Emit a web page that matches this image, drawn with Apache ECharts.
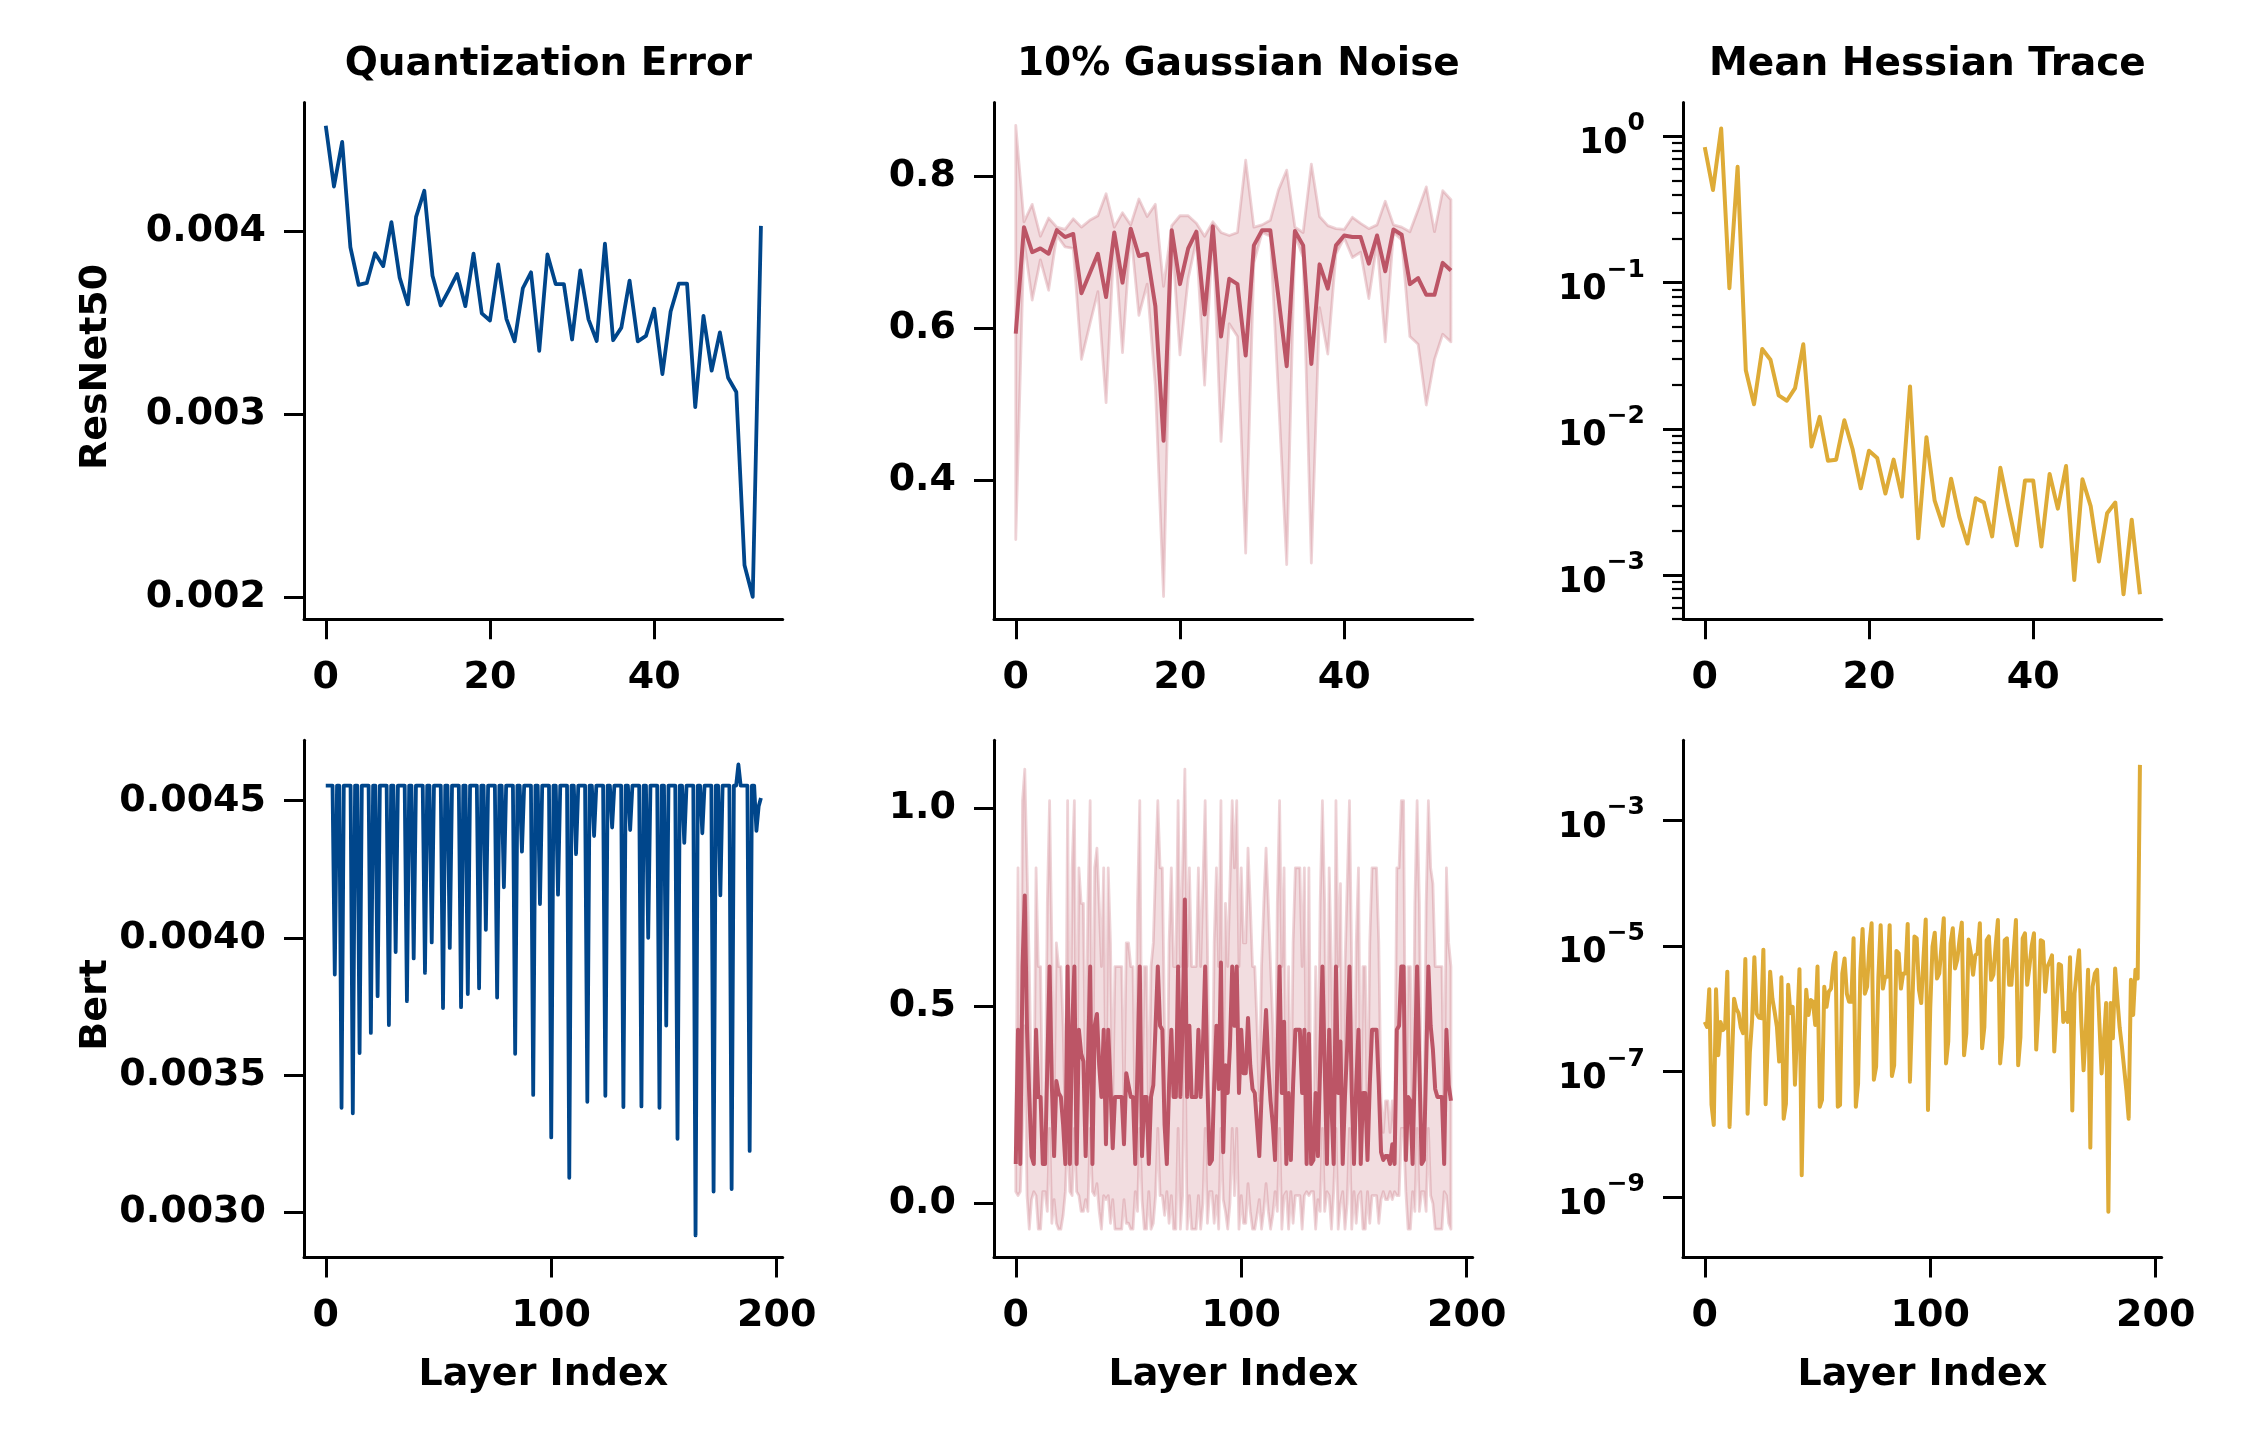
<!DOCTYPE html>
<html><head><meta charset="utf-8">
<script src="https://cdn.jsdelivr.net/npm/echarts@6/dist/echarts.min.js"></script>
<style>html,body{margin:0;padding:0;background:#fff}#c{width:2244px;height:1440px}</style>
</head><body><div id="c"></div>
<script>
// ---------------- text ----------------
const colTitles = ['Quantization Error', '10% Gaussian Noise', 'Mean Hessian Trace'];
const rowLabels = ['ResNet50', 'Bert'];
const xAxisLabel = 'Layer Index';

// ---------------- ResNet50 (54 layers) ----------------
const resnetQuantError = [
0.004576,0.004244,0.004488,0.003912,0.003707,0.003717,0.003879,0.003809,0.004049,0.003746,
0.0036,0.004078,0.004221,0.003756,0.003594,0.003678,0.003766,0.00359,0.003877,0.003551,
0.003512,0.003818,0.003521,0.003398,0.003688,0.003775,0.003346,0.003873,0.003711,0.003711,
0.003408,0.003785,0.003518,0.0034,0.003932,0.003404,0.003473,0.00373,0.003398,0.003428,
0.003576,0.003219,0.003561,0.003713,0.003713,0.003039,0.003537,0.003238,0.003447,0.003199,
0.003121,0.002174,0.002002,0.004029];

const resnetNoiseMean = [
0.593,0.733,0.700,0.705,0.698,0.729,0.720,0.724,0.646,0.672,
0.698,0.641,0.726,0.660,0.731,0.695,0.698,0.629,0.452,0.729,
0.658,0.705,0.727,0.618,0.734,0.589,0.665,0.658,0.564,0.709,
0.729,0.729,0.640,0.550,0.728,0.709,0.553,0.684,0.652,0.709,
0.722,0.720,0.720,0.685,0.722,0.675,0.730,0.723,0.658,0.666,
0.644,0.644,0.686,0.676];
const resnetNoiseUpper = [
0.867,0.740,0.763,0.721,0.745,0.733,0.730,0.744,0.733,0.742,
0.748,0.777,0.733,0.752,0.736,0.770,0.747,0.763,0.655,0.735,
0.748,0.748,0.738,0.721,0.740,0.726,0.722,0.726,0.821,0.733,
0.736,0.742,0.782,0.808,0.733,0.726,0.816,0.747,0.735,0.731,
0.730,0.746,0.738,0.731,0.736,0.767,0.736,0.733,0.727,0.756,
0.786,0.727,0.781,0.769];
const resnetNoiseLower = [
0.322,0.716,0.637,0.690,0.650,0.722,0.707,0.705,0.559,0.604,
0.648,0.502,0.721,0.568,0.727,0.617,0.658,0.524,0.247,0.723,
0.565,0.665,0.716,0.525,0.730,0.451,0.606,0.589,0.304,0.686,
0.726,0.721,0.510,0.289,0.723,0.693,0.291,0.627,0.566,0.698,
0.719,0.693,0.700,0.639,0.712,0.582,0.726,0.716,0.589,0.579,
0.499,0.559,0.592,0.582];

// log10 of the mean Hessian trace
const resnetHessianLog10 = [
-0.073,-0.366,0.054,-1.038,-0.208,-1.600,-1.832,-1.454,-1.527,-1.771,
-1.808,-1.722,-1.422,-2.121,-1.918,-2.218,-2.211,-1.942,-2.138,-2.407,
-2.150,-2.199,-2.443,-2.211,-2.463,-1.710,-2.749,-2.057,-2.492,-2.663,
-2.341,-2.602,-2.785,-2.475,-2.504,-2.736,-2.267,-2.541,-2.797,-2.353,
-2.353,-2.805,-2.309,-2.546,-2.255,-3.034,-2.345,-2.529,-2.907,-2.578,
-2.504,-3.132,-2.622,-3.132];

// ---------------- Bert (194 layers) ----------------
const bertQuantError = [
0.004555,0.004555,0.004555,0.004555,0.003866,0.004555,0.004555,0.00338,0.004555,0.004555,
0.004555,0.004555,0.00336,0.004555,0.004555,0.00358,0.004555,0.004555,0.004555,0.004555,
0.003653,0.004555,0.004555,0.003787,0.004555,0.004555,0.004555,0.004555,0.003682,0.004555,
0.004555,0.003948,0.004555,0.004555,0.004555,0.004555,0.003769,0.004555,0.004555,0.003925,
0.004555,0.004555,0.004555,0.004555,0.003872,0.004555,0.004555,0.003983,0.004555,0.004555,
0.004555,0.004555,0.003744,0.004555,0.004555,0.003963,0.004555,0.004555,0.004555,0.004555,
0.003747,0.004555,0.004555,0.003795,0.004555,0.004555,0.004555,0.004555,0.003816,0.004555,
0.004555,0.004029,0.004555,0.004555,0.004555,0.004555,0.003782,0.004555,0.004555,0.004184,
0.004555,0.004555,0.004555,0.004555,0.003577,0.004555,0.004555,0.004314,0.004555,0.004555,
0.004555,0.004555,0.003427,0.004555,0.004555,0.004123,0.004555,0.004555,0.004555,0.004555,
0.003272,0.004555,0.004555,0.004157,0.004555,0.004555,0.004555,0.004555,0.003125,0.004555,
0.004555,0.004305,0.004555,0.004555,0.004555,0.004555,0.003402,0.004555,0.004555,0.004371,
0.004555,0.004555,0.004555,0.004555,0.003424,0.004555,0.004555,0.004402,0.004555,0.004555,
0.004555,0.004555,0.003383,0.004555,0.004555,0.004393,0.004555,0.004555,0.004555,0.004555,
0.003385,0.004555,0.004555,0.004,0.004555,0.004555,0.004555,0.004555,0.00338,0.004555,
0.004555,0.00368,0.004555,0.004555,0.004555,0.004555,0.003267,0.004555,0.004555,0.004346,
0.004555,0.004555,0.004555,0.004555,0.002915,0.004555,0.004555,0.004381,0.004555,0.004555,
0.004555,0.004555,0.003075,0.004555,0.004555,0.004155,0.004555,0.004555,0.004555,0.004555,
0.003084,0.004555,0.004555,0.004632,0.004555,0.004555,0.004555,0.004555,0.003223,0.004555,
0.004555,0.00439,0.00448,0.00451];

const bertNoiseMean = [
0.10,0.44,0.10,0.60,0.78,0.44,0.27,0.12,0.10,0.44,
0.27,0.27,0.10,0.10,0.35,0.60,0.30,0.12,0.31,0.28,
0.27,0.20,0.10,0.60,0.10,0.44,0.60,0.10,0.44,0.38,
0.36,0.12,0.35,0.60,0.10,0.45,0.48,0.35,0.27,0.44,
0.15,0.44,0.30,0.14,0.27,0.27,0.27,0.27,0.15,0.33,
0.30,0.27,0.27,0.10,0.35,0.60,0.12,0.27,0.27,0.10,
0.27,0.30,0.45,0.60,0.45,0.44,0.20,0.10,0.30,0.44,
0.27,0.27,0.60,0.27,0.45,0.77,0.27,0.45,0.27,0.27,
0.27,0.44,0.27,0.40,0.60,0.30,0.10,0.11,0.30,0.45,
0.29,0.61,0.13,0.35,0.28,0.40,0.60,0.45,0.60,0.28,
0.44,0.33,0.33,0.47,0.35,0.29,0.28,0.20,0.12,0.27,
0.38,0.49,0.35,0.26,0.20,0.11,0.35,0.60,0.28,0.46,
0.10,0.28,0.11,0.30,0.44,0.44,0.44,0.28,0.44,0.10,
0.43,0.10,0.11,0.28,0.12,0.35,0.60,0.35,0.10,0.44,
0.25,0.10,0.60,0.28,0.41,0.10,0.27,0.40,0.60,0.28,
0.10,0.30,0.44,0.10,0.28,0.28,0.11,0.30,0.44,0.44,
0.44,0.30,0.13,0.11,0.12,0.12,0.10,0.15,0.10,0.44,
0.45,0.60,0.60,0.11,0.27,0.26,0.10,0.35,0.60,0.35,
0.10,0.11,0.35,0.60,0.45,0.39,0.29,0.27,0.27,0.27,
0.10,0.44,0.30,0.26];
const bertNoiseLower = [
0.03,0.02,0.03,0.19,0.45,0.02,-0.065,0.01,0.03,0.02,
-0.065,-0.065,0.03,0.03,-0.02,0.19,-0.05,0.01,-0.05,-0.065,
-0.065,-0.03,0.03,0.19,0.03,0.02,0.19,0.03,0.02,-0.02,
-0.02,0.01,-0.02,0.19,0.03,0.02,0.05,-0.02,-0.065,0.02,
0.01,0.02,-0.05,0.01,-0.065,-0.065,-0.065,-0.065,0.01,-0.05,
-0.05,-0.065,-0.065,0.03,-0.02,0.19,0.01,-0.065,-0.065,0.03,
-0.065,-0.05,0.02,0.19,0.02,0.02,-0.03,0.03,-0.05,0.02,
-0.065,-0.065,0.19,-0.065,0.02,0.45,-0.065,0.02,-0.065,-0.065,
-0.065,0.02,-0.065,0.0,0.19,-0.05,0.03,0.03,-0.05,0.02,
-0.065,0.19,0.01,-0.02,-0.065,0.0,0.19,0.02,0.19,-0.065,
0.02,-0.05,-0.05,0.05,-0.02,-0.065,-0.065,-0.03,0.01,-0.065,
-0.02,0.05,-0.02,-0.065,-0.03,0.03,-0.02,0.19,-0.065,0.02,
0.03,-0.065,0.03,-0.05,0.02,0.02,0.02,-0.065,0.02,0.03,
0.02,0.03,0.03,-0.065,0.01,-0.02,0.19,-0.02,0.03,0.02,
-0.065,0.03,0.19,-0.065,0.0,0.03,-0.065,0.0,0.19,-0.065,
0.03,-0.05,0.02,0.03,-0.065,-0.065,0.03,-0.05,0.02,0.02,
0.02,-0.05,0.01,0.03,0.01,0.01,0.03,0.01,0.03,0.02,
0.02,0.19,0.19,0.03,-0.065,-0.065,0.03,-0.02,0.19,-0.02,
0.03,0.03,-0.02,0.19,0.02,0.0,-0.065,-0.065,-0.065,-0.065,
0.03,0.02,-0.05,-0.065];
const bertNoiseUpper = [
0.18,0.85,0.18,1.02,1.10,0.85,0.60,0.26,0.18,0.85,
0.60,0.60,0.18,0.18,0.76,1.02,0.66,0.26,0.66,0.60,
0.60,0.45,0.18,1.02,0.18,0.85,1.02,0.18,0.85,0.76,
0.76,0.26,0.76,1.02,0.18,0.85,0.90,0.76,0.60,0.85,
0.26,0.85,0.66,0.26,0.60,0.60,0.60,0.60,0.26,0.66,
0.66,0.60,0.60,0.18,0.76,1.02,0.26,0.60,0.60,0.18,
0.60,0.66,0.85,1.02,0.85,0.85,0.45,0.18,0.66,0.85,
0.60,0.60,1.02,0.60,0.85,1.10,0.60,0.85,0.60,0.60,
0.60,0.85,0.60,0.81,1.02,0.66,0.18,0.18,0.66,0.85,
0.60,1.02,0.26,0.76,0.60,0.81,1.02,0.85,1.02,0.60,
0.85,0.66,0.66,0.90,0.76,0.60,0.60,0.45,0.26,0.60,
0.76,0.90,0.76,0.60,0.45,0.18,0.76,1.02,0.60,0.85,
0.18,0.60,0.18,0.66,0.85,0.85,0.85,0.60,0.85,0.18,
0.85,0.18,0.18,0.60,0.26,0.76,1.02,0.76,0.18,0.85,
0.60,0.18,1.02,0.60,0.81,0.18,0.60,0.81,1.02,0.60,
0.18,0.66,0.85,0.18,0.60,0.60,0.18,0.66,0.85,0.85,
0.85,0.66,0.26,0.18,0.26,0.26,0.18,0.26,0.18,0.85,
0.85,1.02,1.02,0.18,0.60,0.60,0.18,0.76,1.02,0.76,
0.18,0.18,0.76,1.02,0.85,0.81,0.60,0.60,0.60,0.60,
0.18,0.85,0.66,0.60];

const bertHessianLog10 = [
-6.21,-6.29,-5.69,-7.53,-7.85,-5.69,-6.74,-6.21,-6.34,-6.30,
-5.41,-7.88,-6.90,-5.84,-6.00,-6.07,-6.30,-6.39,-5.21,-7.67,
-6.70,-6.18,-5.18,-6.08,-6.14,-6.15,-5.06,-7.52,-6.50,-5.41,
-5.84,-6.05,-6.29,-6.84,-5.50,-7.75,-7.51,-5.62,-6.07,-5.97,
-7.21,-6.30,-5.37,-8.65,-6.80,-5.70,-6.10,-5.86,-5.89,-6.26,
-5.33,-7.56,-7.45,-5.65,-5.97,-5.73,-5.68,-5.30,-5.11,-7.56,
-7.53,-5.44,-5.20,-5.76,-5.89,-5.89,-4.88,-7.56,-7.19,-5.40,
-4.73,-5.76,-5.65,-5.00,-4.64,-7.13,-6.92,-5.50,-4.67,-5.68,
-5.49,-5.49,-4.67,-7.07,-6.90,-5.08,-5.12,-5.68,-5.44,-5.44,
-4.65,-7.16,-6.00,-4.85,-4.88,-5.70,-5.91,-5.20,-4.58,-7.61,
-6.00,-5.01,-4.79,-5.52,-5.44,-5.00,-4.56,-6.87,-6.52,-4.96,
-4.72,-5.36,-5.22,-4.90,-4.63,-6.74,-6.39,-4.90,-5.12,-5.46,
-5.15,-5.12,-4.64,-6.63,-6.29,-4.91,-4.85,-5.54,-5.46,-5.00,
-4.59,-6.87,-6.45,-4.91,-4.88,-5.62,-5.62,-5.10,-4.59,-6.90,
-6.45,-4.88,-4.80,-5.62,-5.33,-5.00,-4.80,-6.65,-6.02,-4.91,
-4.93,-5.73,-5.33,-5.25,-5.15,-6.68,-6.02,-5.29,-5.31,-6.21,
-6.07,-6.21,-5.18,-7.62,-5.76,-5.40,-5.07,-6.21,-6.98,-6.34,
-5.38,-8.21,-5.65,-5.44,-5.38,-6.21,-7.03,-6.52,-5.91,-9.23,
-5.91,-6.47,-5.36,-5.85,-6.30,-6.60,-6.95,-7.30,-7.75,-5.54,
-6.10,-5.38,-5.52,-2.12];

// ---------------- tick values ----------------
const resnetXTicks = [0, 20, 40];
const bertXTicks = [0, 100, 200];
const resnetQuantTicks = [0.002, 0.003, 0.004];
const resnetNoiseTicks = [0.4, 0.6, 0.8];
const resnetHessTicks = [1e-3, 1e-2, 1e-1, 1];
const resnetHessMinorTicks = [5e-4,6e-4,7e-4,8e-4,9e-4,2e-3,3e-3,4e-3,5e-3,6e-3,7e-3,8e-3,9e-3,
  2e-2,3e-2,4e-2,5e-2,6e-2,7e-2,8e-2,9e-2,0.2,0.3,0.4,0.5,0.6,0.7,0.8,0.9];
const bertQuantTicks = [0.003, 0.0035, 0.004, 0.0045];
const bertNoiseTicks = [0.0, 0.5, 1.0];
const bertHessTicks = [1e-9, 1e-7, 1e-5, 1e-3];

// ---------------- styling / layout ----------------
const FONT = 'DejaVu Sans';
const BLUE = '#00468B', RED = '#BC5566', GOLD = '#DEAB37';
const LEFTS = [304, 994, 1683], W = 478.7;
const TOPS = [102.5, 740.3], HS = [516.8, 517.3];
const FS = 38;

const grids = [];
for (let r = 0; r < 2; r++) for (let c = 0; c < 3; c++)
  grids.push({left: LEFTS[c], top: TOPS[r], width: W, height: HS[r], containLabel: false});

const txt = {color: '#000', fontFamily: FONT, fontWeight: 'bold', fontSize: FS};
const axLine = {show: true, onZero: false, lineStyle: {color: '#000', width: 3}};

function xAx(g, min, max, ticks, named) {
  return {
    type: 'value', gridIndex: g, min: min, max: max,
    axisLine: axLine,
    axisTick: {show: true, customValues: ticks, length: 20, lineStyle: {color: '#000', width: 3}},
    axisLabel: Object.assign({customValues: ticks, margin: 40}, txt),
    splitLine: {show: false},
    name: named ? xAxisLabel : '', nameLocation: 'middle', nameGap: 99,
    nameTextStyle: txt
  };
}
function yAx(g, min, max, ticks, fmt) {
  return {
    type: 'value', gridIndex: g, min: min, max: max,
    axisLine: axLine,
    axisTick: {show: true, customValues: ticks, length: 20, lineStyle: {color: '#000', width: 3}},
    axisLabel: Object.assign({customValues: ticks, margin: 38, formatter: fmt}, txt),
    splitLine: {show: false}
  };
}
function powLabel(v) {
  const e = Math.round(Math.log10(v));
  return '{b|10}{s|' + (e < 0 ? '\u2212' + (-e) : String(e)) + '}';
}
const powRich = {
  b: {fontSize: 35, fontFamily: FONT, fontWeight: 'bold', color: '#000', verticalAlign: 'bottom', lineHeight: 50},
  s: {fontSize: 25, fontFamily: FONT, fontWeight: 'bold', color: '#000', verticalAlign: 'top', lineHeight: 28}
};
function yLog(g, min, max, ticks) {
  return {
    type: 'log', logBase: 10, gridIndex: g, min: min, max: max, position: 'left',
    axisLine: axLine,
    axisTick: {show: true, customValues: ticks, length: 20, lineStyle: {color: '#000', width: 3}},
    axisLabel: {customValues: ticks, margin: 38, formatter: powLabel, rich: powRich, color: '#000'},
    splitLine: {show: false}, minorTick: {show: false}
  };
}
function yLogMinor(g, min, max, ticks) {
  return {
    type: 'log', logBase: 10, gridIndex: g, min: min, max: max, position: 'left', offset: 0,
    axisLine: {show: false, onZero: false},
    axisTick: {show: true, customValues: ticks, length: 11, lineStyle: {color: '#000', width: 2.2}},
    axisLabel: {show: false},
    splitLine: {show: false}
  };
}

const fmt3 = v => v.toFixed(3);
const fmt1 = v => v.toFixed(1);
const fmt4 = v => v.toFixed(4);

const xAxes = [
  xAx(0, -2.65, 55.65, resnetXTicks, false),
  xAx(1, -2.65, 55.65, resnetXTicks, false),
  xAx(2, -2.65, 55.65, resnetXTicks, false),
  xAx(3, -9.65, 202.65, bertXTicks, true),
  xAx(4, -9.65, 202.65, bertXTicks, true),
  xAx(5, -9.65, 202.65, bertXTicks, true)
];
const yAxes = [
  yAx(0, 0.001879, 0.004703, resnetQuantTicks, fmt3),
  yAx(1, 0.217, 0.897, resnetNoiseTicks, fmt1),
  yLog(2, Math.pow(10, -3.303), Math.pow(10, 0.232), resnetHessTicks),
  yAx(3, 0.002834, 0.00472, bertQuantTicks, fmt4),
  yAx(4, -0.137, 1.173, bertNoiseTicks, fmt1),
  yLog(5, Math.pow(10, -9.96), Math.pow(10, -1.729), bertHessTicks),
  yLogMinor(2, Math.pow(10, -3.303), Math.pow(10, 0.232), resnetHessMinorTicks)
];

const pairs = arr => arr.map((v, i) => [i, v]);
const powPairs = arr => arr.map((v, i) => [i, Math.pow(10, v)]);

function line(ax, data, color, width) {
  return {type: 'line', xAxisIndex: ax, yAxisIndex: ax, data: data, showSymbol: false, symbol: 'none',
    lineStyle: {color: color, width: width, join: 'round'}, z: 3, silent: true};
}
// confidence band drawn as one polygon through the axes' own coordinate system
function band(ax, lo, hi) {
  return {
    type: 'custom', xAxisIndex: ax, yAxisIndex: ax, silent: true, z: 2, clip: true,
    data: [[0, hi[0]]],
    renderItem: function (params, api) {
      const pts = [];
      for (let i = 0; i < hi.length; i++) pts.push(api.coord([i, hi[i]]));
      for (let i = lo.length - 1; i >= 0; i--) pts.push(api.coord([i, lo[i]]));
      return {type: 'polygon', shape: {points: pts},
        style: {fill: 'rgba(188,85,102,0.20)', stroke: 'rgba(188,85,102,0.26)', lineWidth: 2.8, lineJoin: 'round'}};
    }
  };
}

const series = [
  line(0, pairs(resnetQuantError), BLUE, 3.8),
  band(1, resnetNoiseLower, resnetNoiseUpper),
  line(1, pairs(resnetNoiseMean), RED, 4),
  line(2, powPairs(resnetHessianLog10), GOLD, 4),
  line(3, pairs(bertQuantError), BLUE, 3.8),
  band(4, bertNoiseLower, bertNoiseUpper),
  line(4, pairs(bertNoiseMean), RED, 4),
  line(5, powPairs(bertHessianLog10), GOLD, 4)
];

const titles = colTitles.map((t, c) => ({
  text: t, left: LEFTS[c] + W / 2, top: 40, textAlign: 'center',
  textStyle: {color: '#000', fontFamily: FONT, fontWeight: 'bold', fontSize: 39}
}));

const graphic = rowLabels.map((t, r) => ({
  type: 'text', x: 96, y: TOPS[r] + HS[r] / 2 + 6, rotation: Math.PI / 2,
  style: {text: t, fill: '#000', font: 'bold ' + FS + 'px "' + FONT + '"', textAlign: 'center', textVerticalAlign: 'middle'}
}));

const chart = echarts.init(document.getElementById('c'), null, {renderer: 'canvas'});
chart.setOption({
  backgroundColor: '#fff',
  animation: false,
  title: titles,
  grid: grids,
  xAxis: xAxes,
  yAxis: yAxes,
  series: series,
  graphic: graphic
});
</script>
</body></html>
